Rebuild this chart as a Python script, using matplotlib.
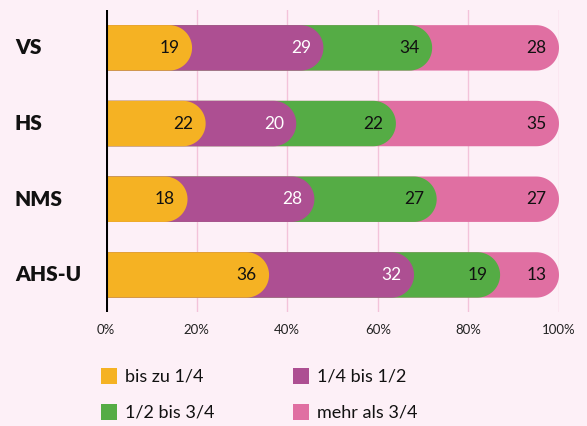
import matplotlib
matplotlib.use("Agg")
import matplotlib.pyplot as plt
from matplotlib.path import Path
from matplotlib.patches import PathPatch, Rectangle
from matplotlib.transforms import blended_transform_factory
import numpy as np

# data: printed labels
categories = ["VS", "HS", "NMS", "AHS-U"]
series_names = ["bis zu 1/4", "1/4 bis 1/2", "1/2 bis 3/4", "mehr als 3/4"]
values = {
    "bis zu 1/4": [19, 22, 18, 36],
    "1/4 bis 1/2": [29, 20, 28, 32],
    "1/2 bis 3/4": [34, 22, 27, 19],
    "mehr als 3/4": [28, 35, 27, 13],
}
# segment lengths as drawn in the original (VS green drawn as 24, last segment fills to 100)
drawn = {
    "bis zu 1/4": [19, 22, 18, 36],
    "1/4 bis 1/2": [29, 20, 28, 32],
    "1/2 bis 3/4": [24, 22, 27, 19],
    "mehr als 3/4": [28, 36, 27, 13],
}
tick_values = [0, 20, 40, 60, 80, 100]

colors = ["#F5B223", "#AD4F92", "#55AC45", "#E06FA2"]
text_colors = ["#111111", "#FFFFFF", "#111111", "#111111"]
bg = "#FDF0F7"

plt.rcParams["font.family"] = ["Lato", "DejaVu Sans"]

W, H = 587, 426
fig = plt.figure(figsize=(W / 100, H / 100), dpi=100, facecolor=bg)
ax = fig.add_axes([106 / W, 1 - 312 / H, (559 - 106) / W, (312 - 10) / H])
ax.set_facecolor(bg)
ax.set_xlim(0, 100)
ax.set_ylim(-0.49, 3.50)

bar_h = 0.6
ypos = np.arange(len(categories))[::-1]  # VS on top

# radius of the rounded end, in x data units (half bar height in pixels)
fig.canvas.draw()
px_per_y = ax.transData.transform((0, 1))[1] - ax.transData.transform((0, 0))[1]
px_per_x = ax.transData.transform((1, 0))[0] - ax.transData.transform((0, 0))[0]
r_px = bar_h / 2 * px_per_y
rx = r_px / px_per_x


def rounded_bar(end, yc, color, z):
    theta = np.linspace(-np.pi / 2, np.pi / 2, 40)
    cx = end - rx
    xs = [0, cx] + list(cx + rx * np.cos(theta)) + [cx, 0, 0]
    ys = ([yc - bar_h / 2, yc - bar_h / 2] + list(yc + bar_h / 2 * np.sin(theta))
          + [yc + bar_h / 2, yc + bar_h / 2, yc - bar_h / 2])
    verts = list(zip(xs, ys))
    codes = [Path.MOVETO] + [Path.LINETO] * (len(verts) - 2) + [Path.CLOSEPOLY]
    ax.add_patch(PathPatch(Path(verts, codes), facecolor=color, edgecolor="none", zorder=z))


cum = np.cumsum([drawn[s] for s in series_names], axis=0)
for i, yc in enumerate(ypos):
    for j in range(len(series_names) - 1, -1, -1):
        end = cum[j][i]
        rounded_bar(end, yc, colors[j], 3 + (len(series_names) - j))
        ax.annotate(str(values[series_names[j]][i]), xy=(end, yc), xytext=(-9, 0),
                    textcoords="offset points", ha="right", va="center",
                    fontsize=12.5, color=text_colors[j], zorder=20)

# grid and axes
for t in tick_values[1:]:
    ax.axvline(t, color="#F3C3DA", lw=1, zorder=1)
ax.axvline(0, color="#000000", lw=2.2, zorder=25)
for s in ax.spines.values():
    s.set_visible(False)
ax.set_xticks(tick_values)
ax.set_xticklabels([f"{t}%" for t in tick_values], fontsize=9.5, color="#222222")
ax.tick_params(axis="x", length=0, pad=9)
ax.set_yticks([])

# category labels, left aligned
trans = blended_transform_factory(fig.transFigure, ax.transData)
for cat, yc in zip(categories, ypos):
    ax.text(15 / W, yc, cat, transform=trans, ha="left", va="center",
            fontsize=15, fontweight="heavy", color="#111111")

# legend
leg_x = [101, 293]
leg_y = [376, 412]
for k, name in enumerate(series_names):
    col, row = k % 2, k // 2
    x0, yc = leg_x[col], leg_y[row]
    fig.add_artist(Rectangle((x0 / W, 1 - (yc + 8) / H), 16 / W, 16 / H,
                             transform=fig.transFigure, facecolor=colors[k], edgecolor="none"))
    fig.text((x0 + 24) / W, 1 - yc / H, name, ha="left", va="center",
             fontsize=13, color="#111111")

fig.savefig("out.png", dpi=100, facecolor=bg)
